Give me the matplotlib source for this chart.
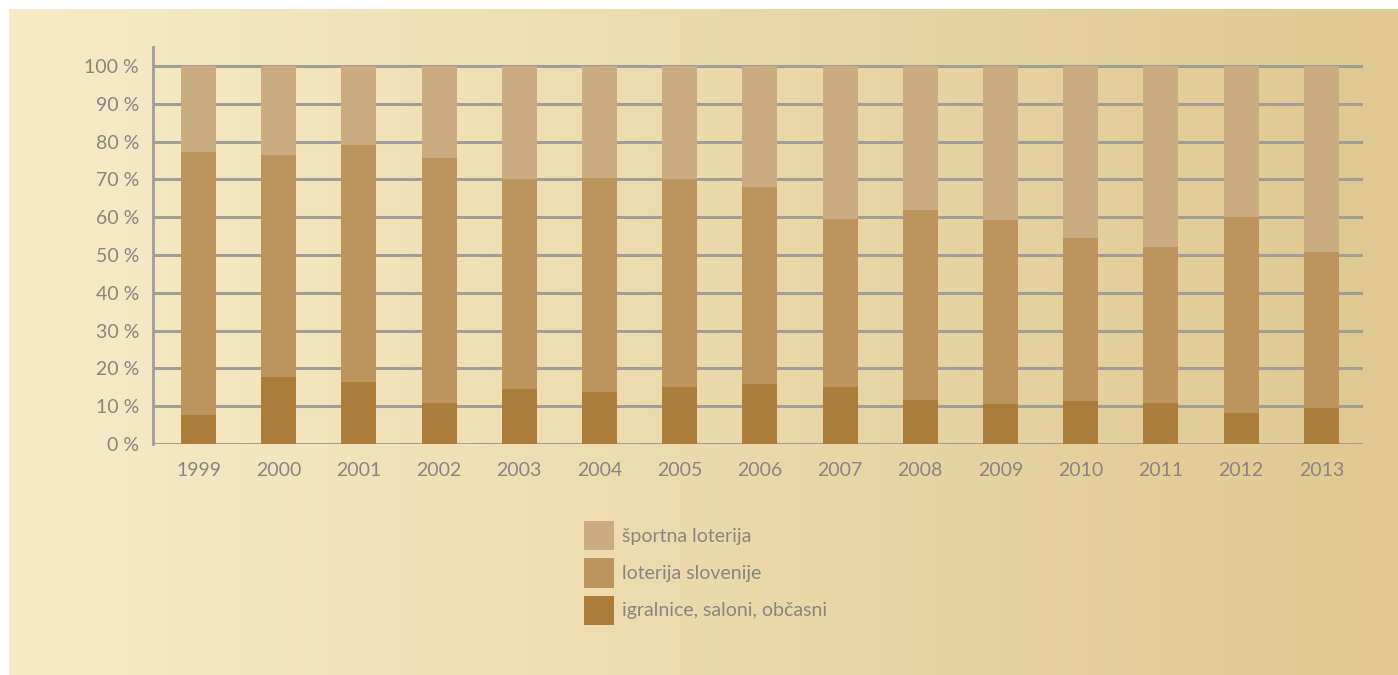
import numpy as np
import matplotlib
matplotlib.use('Agg')
import matplotlib.pyplot as plt
from matplotlib.patches import Patch

plt.rcParams['font.family'] = ['Lato', 'DejaVu Sans']

years = ['1999', '2000', '2001', '2002', '2003', '2004', '2005', '2006',
         '2007', '2008', '2009', '2010', '2011', '2012', '2013']
# shares in %
igralnice = [7.7, 17.8, 16.4, 10.8, 14.5, 13.8, 15.1, 15.9, 15.1, 11.6, 10.6, 11.4, 10.8, 8.2, 9.5]
loterija = [69.5, 58.7, 62.7, 64.9, 55.6, 56.6, 55.0, 52.1, 44.4, 50.3, 48.7, 43.1, 41.3, 51.9, 41.3]
sportna = [22.8, 23.5, 20.9, 24.3, 29.9, 29.6, 29.9, 32.0, 40.5, 38.1, 40.7, 45.5, 47.9, 39.9, 49.2]
labels = ['športna loterija', 'loterija slovenije', 'igralnice, saloni, občasni']
colors = ['#caac82', '#bb945e', '#ab7d3b']
yticks = list(range(0, 101, 10))

W, H = 1398, 675
fig = plt.figure(figsize=(W / 100, H / 100), dpi=100)
fig.patch.set_facecolor('white')

# gradient background panel
bg = fig.add_axes([9 / W, 0, 1 - 9 / W, 1 - 9 / H])
c1 = np.array([0xf7, 0xeb, 0xc7]) / 255
c2 = np.array([0xdf, 0xc8, 0x91]) / 255
t = np.linspace(0, 1, 256)[None, :, None]
grad = c1 * (1 - t) + c2 * t
bg.imshow(grad, aspect='auto', extent=[0, 1, 0, 1])
bg.set_axis_off()

ax = fig.add_axes([153 / W, 231 / H, 1210 / W, 397 / H])
ax.patch.set_alpha(0)
x = np.arange(len(years))
grey = '#a09e98'
txt = '#8a8580'

bottom = np.zeros(len(years))
series = [igralnice, loterija, sportna]
for vals, col in zip(series, colors[::-1]):
    ax.bar(x, vals, width=0.436, bottom=bottom, color=col, zorder=3, linewidth=0)
    bottom += np.array(vals)

ax.set_xlim(-0.567, 14.52)
ax.set_ylim(0, 105)
ax.set_yticks(yticks)
ax.set_yticklabels([f'{v} %' for v in yticks])
ax.set_xticks(x)
ax.set_xticklabels(years)
ax.tick_params(axis='both', length=0, labelsize=14, colors=txt)
ax.tick_params(axis='y', pad=10)
ax.tick_params(axis='x', pad=13)
for v in yticks:
    ax.axhline(v, color=grey, lw=2.2, zorder=1)
for s in ['top', 'right', 'bottom']:
    ax.spines[s].set_visible(False)
ax.spines['left'].set_color(grey)
ax.spines['left'].set_linewidth(2)

handles = [Patch(facecolor=c, edgecolor='none') for c in colors]
leg = fig.legend(handles, labels, loc='upper left',
                 bbox_to_anchor=(584 / W, (H - 521) / H),
                 frameon=False, fontsize=14, handlelength=1.55, handleheight=1.94,
                 handletextpad=0.4, labelspacing=0.41, borderpad=0, borderaxespad=0)
for tx in leg.get_texts():
    tx.set_color(txt)

fig.savefig('out.png', dpi=100)
